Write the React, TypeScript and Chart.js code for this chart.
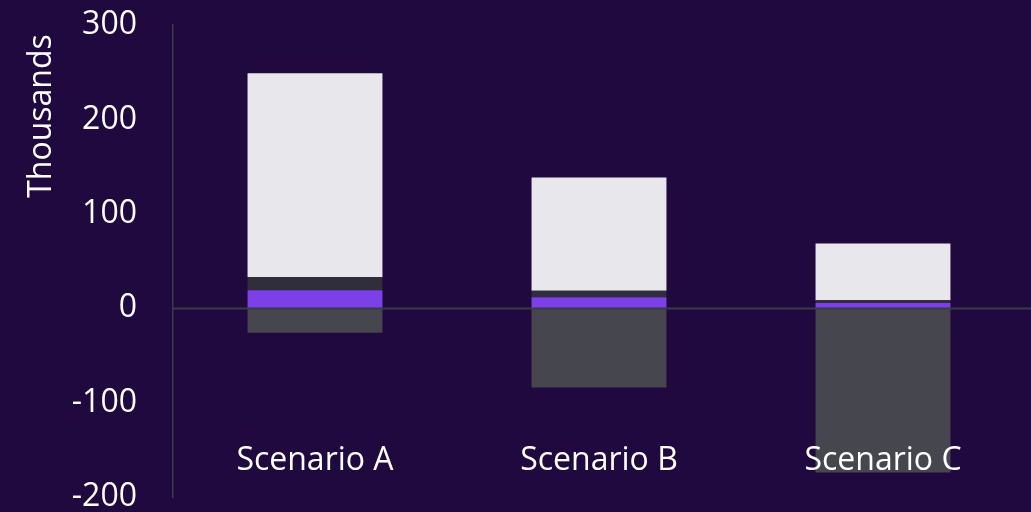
import React, { useEffect, useRef } from "react";
import { Chart, registerables } from "chart.js";

Chart.register(...registerables);

const categories = ["Scenario A", "Scenario B", "Scenario C"];
const purpleValues = [19, 11.5, 5.5];
const darkValues = [14, 7, 3];
const lightValues = [216, 120, 60];
const negativeValues = [-26, -84, -174];
const yTicks = [-200, -100, 0, 100, 200, 300];
const yTitle = "Thousands";

const BG = "#20093F";
const FONT = "'Open Sans', sans-serif";
const FONT_SIZE = 32;

export default function App() {
  const ref = useRef<HTMLCanvasElement | null>(null);

  useEffect(() => {
    document.body.style.margin = "0";
    document.body.style.background = BG;
    const canvas = ref.current;
    if (!canvas) return;
    const chart = new Chart(canvas, {
      type: "bar",
      data: {
        labels: categories,
        datasets: [
          { label: "Purple", data: purpleValues, backgroundColor: "#7B40E6" },
          { label: "Dark", data: darkValues, backgroundColor: "#2F2E3A" },
          { label: "Light", data: lightValues, backgroundColor: "#E8E7EB" },
          { label: "Negative", data: negativeValues, backgroundColor: "#46464E" },
        ],
      },
      plugins: [
        {
          id: "bg",
          beforeDraw(c: any) {
            const ctx = c.ctx;
            ctx.save();
            ctx.fillStyle = BG;
            ctx.fillRect(0, 0, c.width, c.height);
            ctx.restore();
          },
          afterDatasetsDraw(c: any) {
            const ctx = c.ctx;
            const xs = c.scales.x;
            const ys = c.scales.y;
            ctx.save();
            // zero line
            const y0 = Math.round(ys.getPixelForValue(0)) + 0.5;
            ctx.strokeStyle = "#3A3A46";
            ctx.lineWidth = 2;
            ctx.beginPath();
            ctx.moveTo(c.chartArea.left, y0);
            ctx.lineTo(c.width, y0);
            ctx.stroke();
            // category labels
            ctx.fillStyle = "#FFFFFF";
            ctx.font = `${FONT_SIZE}px ${FONT}`;
            ctx.textAlign = "center";
            ctx.textBaseline = "middle";
            const ly = ys.getPixelForValue(-162);
            categories.forEach((cat, i) => {
              ctx.fillText(cat, xs.getPixelForValue(i), ly);
            });
            // y-axis title
            ctx.translate(42, 116);
            ctx.rotate(-Math.PI / 2);
            ctx.fillText(yTitle, 0, 0);
            ctx.restore();
          },
        },
      ],
      options: {
        animation: false,
        responsive: false,
        maintainAspectRatio: false,
        layout: { padding: { top: 25, bottom: 15, right: 6, left: 0 } },
        plugins: { legend: { display: false }, tooltip: { enabled: false } },
        datasets: { bar: { barPercentage: 0.475, categoryPercentage: 1 } },
        scales: {
          x: {
            stacked: true,
            display: false,
          },
          y: {
            stacked: true,
            min: -200,
            max: 300,
            afterBuildTicks(axis: any) {
              axis.ticks = yTicks.map((v) => ({ value: v }));
            },
            afterFit(axis: any) {
              axis.width = 173;
              axis.paddingTop = 0;
              axis.paddingBottom = 0;
            },
            grid: { display: false, drawTicks: false },
            border: { display: true, color: "#3A3A42", width: 1.5 },
            ticks: { color: "#FFFFFF", font: { family: FONT, size: FONT_SIZE }, padding: 36 },
            title: { display: false },
          },
        },
      } as any,
    });
    return () => chart.destroy();
  }, []);

  return (
    <div style={{ position: "fixed", left: 0, top: 0, width: 1031, height: 512, background: BG, overflow: "hidden" }}>
      <canvas ref={ref} width={1031} height={512} style={{ display: "block" }} />
    </div>
  );
}
